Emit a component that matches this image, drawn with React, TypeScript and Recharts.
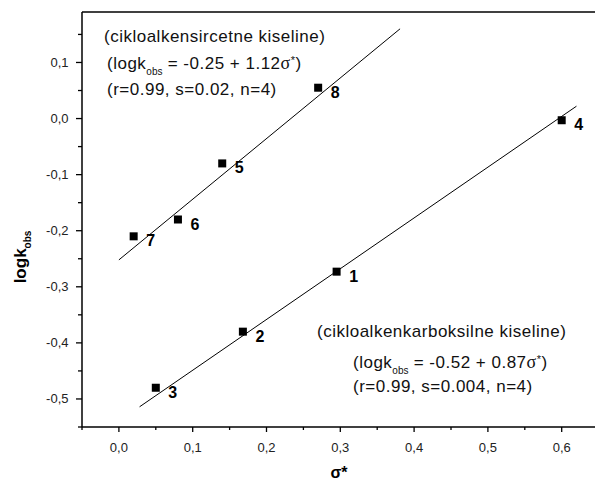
import { ScatterChart, Scatter, XAxis, YAxis, ReferenceLine, LabelList } from "recharts"

// cikloalkensircetne kiseline (points 7, 6, 5, 8)
const acidSigma = [0.02, 0.08, 0.14, 0.27]
const acidLogk = [-0.21, -0.18, -0.08, 0.055]
const acidLabels = ["7", "6", "5", "8"]
const acidFitSigma = [0.0, 0.381]
const acidFitLogk = [-0.252, 0.16]

// cikloalkenkarboksilne kiseline (points 1, 2, 3, 4)
const carbSigma = [0.295, 0.168, 0.05, 0.6]
const carbLogk = [-0.273, -0.38, -0.48, -0.003]
const carbLabels = ["1", "2", "3", "4"]
const carbFitSigma = [0.028, 0.62]
const carbFitLogk = [-0.514, 0.022]

const xTicks = [-0.05, 0, 0.05, 0.1, 0.15, 0.2, 0.25, 0.3, 0.35, 0.4, 0.45, 0.5, 0.55, 0.6]
const yTicks = [-0.55, -0.5, -0.45, -0.4, -0.35, -0.3, -0.25, -0.2, -0.15, -0.1, -0.05, 0, 0.05, 0.1, 0.15]

const acidPoints = acidSigma.map((s, i) => ({ s, k: acidLogk[i], n: acidLabels[i] }))
const carbPoints = carbSigma.map((s, i) => ({ s, k: carbLogk[i], n: carbLabels[i] }))
const acidFit = acidFitSigma.map((s, i) => ({ s, k: acidFitLogk[i] }))
const carbFit = carbFitSigma.map((s, i) => ({ s, k: carbFitLogk[i] }))

const font = '"Liberation Sans", Arial, sans-serif'
const isMajor = (v: number) => Math.abs(v * 10 - Math.round(v * 10)) < 1e-6
const fmt = (v: number) => v.toFixed(1).replace(".", ",")

const XTick = (p: any) => {
  const major = isMajor(p.payload.value)
  return (
    <g>
      <line x1={p.x} x2={p.x} y1={p.y} y2={p.y + (major ? 5 : 3)} stroke="#000" strokeWidth={1.3} />
      {major && (
        <text x={p.x} y={p.y + 24.5} textAnchor="middle" fontFamily={font} fontSize={13} fill="#222">
          {fmt(p.payload.value)}
        </text>
      )}
    </g>
  )
}

const YTick = (p: any) => {
  const major = isMajor(p.payload.value)
  return (
    <g>
      <line x1={p.x - (major ? 6 : 4)} x2={p.x} y1={p.y} y2={p.y} stroke="#000" strokeWidth={1.3} />
      {major && (
        <text x={p.x - 13.5} y={p.y + 4.5} textAnchor="end" fontFamily={font} fontSize={13} fill="#222">
          {fmt(p.payload.value)}
        </text>
      )}
    </g>
  )
}

const Square = (p: any) => <rect x={p.cx - 4} y={p.cy - 4} width={8} height={8} fill="#000" />
const NoDot = () => <g />

const PointLabel = (p: any) => {
  const cx = (p.x ?? 0) + (p.width ?? 0) / 2
  const cy = (p.y ?? 0) + (p.height ?? 0) / 2
  return (
    <text x={cx + 17} y={cy + 10} textAnchor="middle" fontFamily={font} fontWeight="bold" fontSize={16} fill="#000">
      {p.value}
    </text>
  )
}

const YTitle = () => (
  <text transform="rotate(-90, 26, 257)" x={26} y={257} textAnchor="middle" fontFamily={font} fontWeight="bold" fontSize={17} fill="#000">
    logk<tspan fontSize={10} dy={5}>obs</tspan>
  </text>
)

const XTitle = () => (
  <text x={339} y={478} textAnchor="middle" fontFamily={font} fontWeight="bold" fontSize={16} fill="#000">
    σ*
  </text>
)

const ann = { position: "absolute" as const, fontFamily: font, fontSize: 17, letterSpacing: 0.5, lineHeight: "20px", color: "#111", whiteSpace: "nowrap" as const }
const sub = { fontSize: 10, letterSpacing: 0, position: "relative" as const, top: 6 }
const serif = { fontFamily: '"Liberation Serif", "Times New Roman", serif', fontSize: 18 }
const star = { fontSize: 11, position: "relative" as const, top: -5 }

export default function App() {
  return (
    <div style={{ position: "absolute", left: 0, top: 0, width: 595, height: 483, overflow: "hidden", background: "#fff" }}>
      <ScatterChart width={600} height={483} margin={{ top: 12, right: 1.4, left: 52, bottom: 26 }}>
        <XAxis
          type="number"
          dataKey="s"
          domain={[-0.05, 0.65]}
          ticks={xTicks}
          interval={0}
          allowDataOverflow
          height={30}
          tickSize={0}
          tickMargin={0}
          tickLine={false}
          tick={<XTick />}
          axisLine={{ stroke: "#000", strokeWidth: 1.5 }}
          label={<XTitle />}
        />
        <YAxis
          type="number"
          dataKey="k"
          domain={[-0.55, 0.19]}
          ticks={yTicks}
          interval={0}
          allowDataOverflow
          width={30}
          tickSize={0}
          tickMargin={0}
          tickLine={false}
          tick={<YTick />}
          axisLine={{ stroke: "#000", strokeWidth: 1.5 }}
          label={<YTitle />}
        />
        <ReferenceLine y={0.19} stroke="#000" strokeWidth={1.5} />
        <ReferenceLine x={0.65} stroke="#000" strokeWidth={1.5} />
        <Scatter data={acidFit} line={{ stroke: "#000", strokeWidth: 1 }} shape={<NoDot />} isAnimationActive={false} legendType="none" />
        <Scatter data={carbFit} line={{ stroke: "#000", strokeWidth: 1 }} shape={<NoDot />} isAnimationActive={false} legendType="none" />
        <Scatter data={acidPoints} shape={<Square />} isAnimationActive={false}>
          <LabelList dataKey="n" content={<PointLabel />} />
        </Scatter>
        <Scatter data={carbPoints} shape={<Square />} isAnimationActive={false}>
          <LabelList dataKey="n" content={<PointLabel />} />
        </Scatter>
      </ScatterChart>

      <div style={{ ...ann, left: 104, top: 27 }}>(cikloalkensircetne kiseline)</div>
      <div style={{ ...ann, left: 107, top: 53 }}>
        (logk<span style={sub}>obs</span> = -0.25 + 1.12<span style={serif}>σ</span><span style={star}>*</span>)
      </div>
      <div style={{ ...ann, left: 107, top: 80 }}>(r=0.99, s=0.02, n=4)</div>

      <div style={{ ...ann, left: 317, top: 322 }}>(cikloalkenkarboksilne kiseline)</div>
      <div style={{ ...ann, left: 353, top: 352 }}>
        (logk<span style={sub}>obs</span> = -0.52 + 0.87<span style={serif}>σ</span><span style={star}>*</span>)
      </div>
      <div style={{ ...ann, left: 353, top: 377 }}>(r=0.99, s=0.004, n=4)</div>
    </div>
  )
}
